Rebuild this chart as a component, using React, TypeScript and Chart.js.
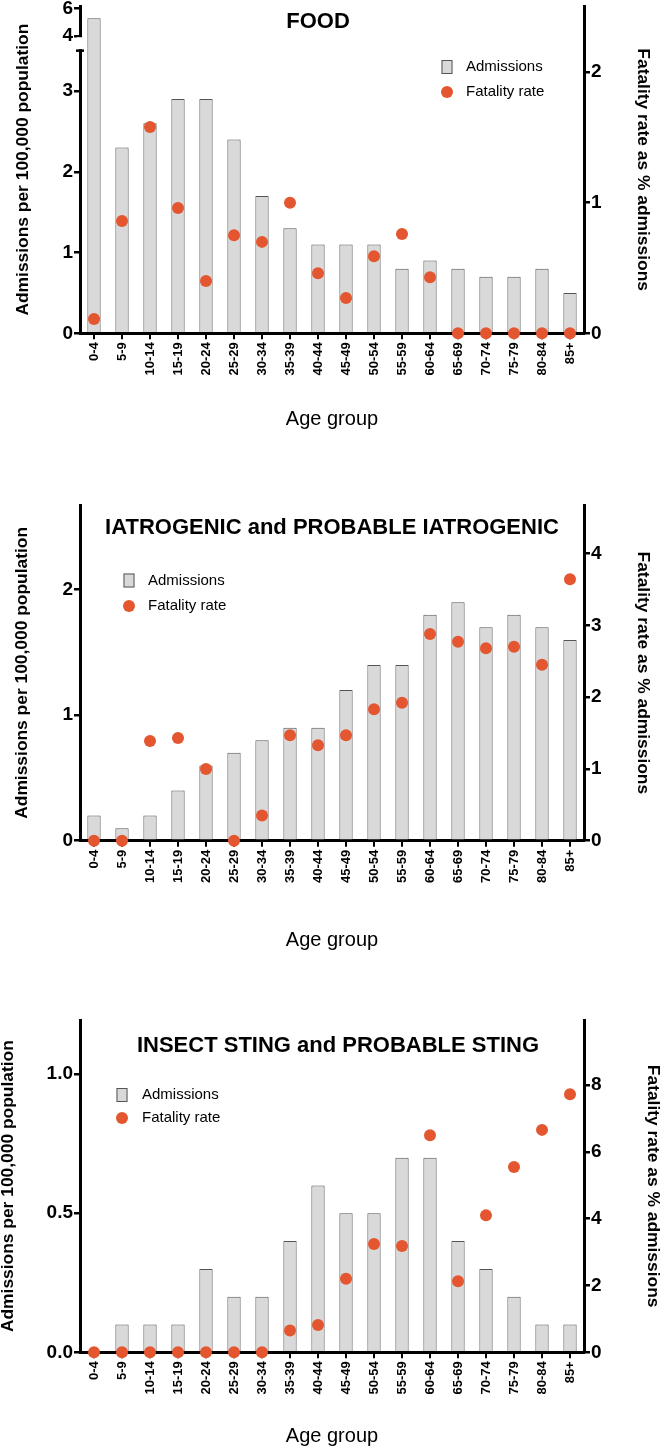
import React, { useEffect, useRef } from 'react';
import { Chart, registerables, LinearScale } from 'chart.js';

Chart.register(...registerables);

// ---------------- data ----------------
const AGE_GROUPS = ['0-4', '5-9', '10-14', '15-19', '20-24', '25-29', '30-34', '35-39', '40-44', '45-49', '50-54', '55-59', '60-64', '65-69', '70-74', '75-79', '80-84', '85+'];

const FOOD_ADMISSIONS = [5.3, 2.3, 2.6, 2.9, 2.9, 2.4, 1.7, 1.3, 1.1, 1.1, 1.1, 0.8, 0.9, 0.8, 0.7, 0.7, 0.8, 0.5];
const FOOD_FATALITY = [0.11, 0.86, 1.58, 0.96, 0.4, 0.75, 0.7, 1.0, 0.46, 0.27, 0.59, 0.76, 0.43, 0, 0, 0, 0, 0];

const IATRO_ADMISSIONS = [0.2, 0.1, 0.2, 0.4, 0.6, 0.7, 0.8, 0.9, 0.9, 1.2, 1.4, 1.4, 1.8, 1.9, 1.7, 1.8, 1.7, 1.6];
const IATRO_FATALITY = [0, 0, 1.39, 1.43, 1.0, 0, 0.35, 1.47, 1.33, 1.47, 1.83, 1.92, 2.88, 2.77, 2.68, 2.7, 2.45, 3.64];

const STING_ADMISSIONS = [0, 0.1, 0.1, 0.1, 0.3, 0.2, 0.2, 0.4, 0.6, 0.5, 0.5, 0.7, 0.7, 0.4, 0.3, 0.2, 0.1, 0.1];
const STING_FATALITY = [0, 0, 0, 0, 0, 0, 0, 0.65, 0.82, 2.2, 3.24, 3.18, 6.5, 2.13, 4.1, 5.55, 6.66, 7.73];

const FOOD_LEFT_TICKS = [0, 1, 2, 3, 4, 6];
const FOOD_RIGHT_TICKS = [0, 1, 2];
const IATRO_LEFT_TICKS = [0, 1, 2];
const IATRO_RIGHT_TICKS = [0, 1, 2, 3, 4];
const STING_LEFT_TICKS = [0, 0.5, 1.0];
const STING_RIGHT_TICKS = [0, 2, 4, 6, 8];

// broken axis (FOOD left axis): value breakpoints and their share of the axis height
const FOOD_BREAK_VALUES = [0, 3.5, 4, 6.2];
const FOOD_BREAK_FRACTIONS = [0, 0.8636, 0.9091, 1];

// ---------------- styling ----------------
const FONT = "'Liberation Sans', Arial, Helvetica, sans-serif";
const BAR_FILL = '#D9D9D9';
const BAR_EDGE = '#555555';
const DOT = '#E4562F';
const W = 662;
const PLOT_LEFT = 80;
const PLOT_RIGHT = 584;

function interp(x: number, xs: number[], ys: number[]) {
  const n = xs.length;
  let i = 1;
  while (i < n - 1 && x > xs[i]) i++;
  return ys[i - 1] + ((x - xs[i - 1]) * (ys[i] - ys[i - 1])) / (xs[i] - xs[i - 1]);
}

class BrokenLinearScale extends LinearScale {
  static id = 'brokenLinear';
  static defaults = LinearScale.defaults;
  getPixelForValue(value: any) {
    if (value === null || value === undefined || isNaN(value)) return NaN;
    return this.getPixelForDecimal(interp(+value, FOOD_BREAK_VALUES, FOOD_BREAK_FRACTIONS));
  }
  getValueForPixel(pixel: number) {
    return interp(this.getDecimalForPixel(pixel), FOOD_BREAK_FRACTIONS, FOOD_BREAK_VALUES);
  }
}
Chart.register(BrokenLinearScale as any);

const axisBreakPlugin = {
  id: 'axisBreak',
  afterDraw(chart: any) {
    const s = chart.scales.y;
    const ctx = chart.ctx;
    const x = chart.chartArea.left;
    const yLow = s.getPixelForValue(FOOD_BREAK_VALUES[1]);
    const yHigh = s.getPixelForValue(FOOD_BREAK_VALUES[2]);
    ctx.save();
    ctx.fillStyle = '#fff';
    ctx.fillRect(x - 3, yHigh + 1.5, 6, yLow - yHigh - 3);
    ctx.strokeStyle = '#000';
    ctx.lineWidth = 2.5;
    ctx.beginPath();
    ctx.moveTo(x - 4, yLow);
    ctx.lineTo(x + 4, yLow);
    ctx.stroke();
    ctx.restore();
  },
};

function decorPlugin(p: any) {
  return {
    id: 'decor',
    afterDraw(chart: any) {
      const ctx = chart.ctx;
      const dots = chart.data.datasets[0];
      const bars = chart.data.datasets[1];
      ctx.save();
      ctx.fillStyle = '#000';
      ctx.textAlign = 'center';
      ctx.textBaseline = 'middle';
      ctx.font = `bold 22px ${FONT}`;
      ctx.fillText(p.title, p.titleX, p.titleY);
      // legend: bar swatch
      ctx.fillStyle = bars.backgroundColor;
      ctx.fillRect(p.legX - 5.5, p.legY1 - 7, 11, 14);
      ctx.strokeStyle = bars.borderColor;
      ctx.lineWidth = 1;
      ctx.strokeRect(p.legX - 5, p.legY1 - 6.5, 10, 13);
      // legend: dot
      ctx.fillStyle = dots.pointBackgroundColor;
      ctx.beginPath();
      ctx.arc(p.legX, p.legY2, 6, 0, Math.PI * 2);
      ctx.fill();
      ctx.fillStyle = '#000';
      ctx.textAlign = 'left';
      ctx.font = `15px ${FONT}`;
      ctx.fillText(bars.label, p.legTextX, p.legY1);
      ctx.fillText(dots.label, p.legTextX, p.legY2);
      ctx.restore();
    },
  };
}

const tickFont = { family: FONT, size: 19, weight: 'bold' as const };
const axisTitleFont = { family: FONT, size: 17.4, weight: 'bold' as const };

function makeConfig(p: any): any {
  const xHeight = p.height - p.plotBottom;
  return {
    type: 'bar',
    data: {
      labels: AGE_GROUPS,
      datasets: [
        {
          type: 'line',
          label: 'Fatality rate',
          data: p.fatality,
          yAxisID: 'y1',
          showLine: false,
          clip: false,
          pointRadius: 6,
          pointHoverRadius: 6,
          pointBackgroundColor: DOT,
          pointBorderColor: DOT,
          pointBorderWidth: 0,
          backgroundColor: DOT,
          borderColor: DOT,
          order: 0,
        },
        {
          type: 'bar',
          label: 'Admissions',
          data: p.admissions,
          yAxisID: 'y',
          backgroundColor: BAR_FILL,
          borderColor: BAR_EDGE,
          borderWidth: 1,
          barPercentage: 0.475,
          categoryPercentage: 1,
          order: 1,
        },
      ],
    },
    options: {
      responsive: false,
      maintainAspectRatio: false,
      animation: false,
      events: [],
      layout: { padding: { top: p.plotTop, left: 0, right: 0, bottom: 0 } },
      plugins: { legend: { display: false }, tooltip: { enabled: false }, title: { display: false } },
      scales: {
        x: {
          type: 'category',
          offset: true,
          grid: { display: true, offset: false, drawOnChartArea: false, drawTicks: true, tickLength: 6, lineWidth: 2, color: '#000' },
          border: { display: true, width: 3, color: '#000' },
          ticks: { autoSkip: false, maxRotation: 90, minRotation: 90, padding: 3, color: '#000', font: { family: FONT, size: 13, weight: 'bold' } },
          title: { display: true, text: 'Age group', color: '#000', font: { family: FONT, size: 20 }, padding: { top: 0, bottom: p.xTitlePad } },
          afterFit: (s: any) => {
            s.height = xHeight;
            s.paddingLeft = 0;
            s.paddingRight = 0;
          },
        },
        y: {
          type: p.leftType,
          position: 'left',
          min: 0,
          max: p.leftMax,
          grid: { drawOnChartArea: false, drawTicks: true, tickLength: 6, lineWidth: 2.5, color: '#000' },
          border: { display: true, width: 3, color: '#000' },
          ticks: { padding: 1, color: '#000', font: tickFont, callback: p.leftFmt },
          afterBuildTicks: (s: any) => {
            s.ticks = p.leftTicks.map((v: number) => ({ value: v }));
          },
          title: { display: true, text: 'Admissions per 100,000 population', color: '#000', font: axisTitleFont, padding: { top: p.leftTitlePad, bottom: 0 } },
          afterFit: (s: any) => {
            s.width = PLOT_LEFT;
            s.paddingTop = 0;
            s.paddingBottom = 0;
          },
        },
        y1: {
          type: 'linear',
          position: 'right',
          min: 0,
          max: p.rightMax,
          grid: { drawOnChartArea: false, drawTicks: true, tickLength: 6, lineWidth: 2.5, color: '#000' },
          border: { display: true, width: 3, color: '#000' },
          ticks: { padding: 1, color: '#000', font: tickFont, callback: (v: any) => String(v) },
          afterBuildTicks: (s: any) => {
            s.ticks = p.rightTicks.map((v: number) => ({ value: v }));
          },
          title: { display: true, text: 'Fatality rate as % admissions', color: '#000', font: axisTitleFont, padding: { top: p.rightTitlePad, bottom: 0 } },
          afterFit: (s: any) => {
            s.width = W - PLOT_RIGHT;
            s.paddingTop = 0;
            s.paddingBottom = 0;
          },
        },
      },
    },
    plugins: [decorPlugin(p), ...(p.extraPlugins || [])],
  };
}

const intFmt = (v: any) => String(v);
const oneDecFmt = (v: any) => Number(v).toFixed(1);

const PANELS = [
  {
    top: 0,
    height: 460,
    plotTop: 3.3,
    plotBottom: 333.3,
    admissions: FOOD_ADMISSIONS,
    fatality: FOOD_FATALITY,
    leftType: 'brokenLinear',
    leftMax: 6.2,
    rightMax: 2.506,
    leftTicks: FOOD_LEFT_TICKS,
    rightTicks: FOOD_RIGHT_TICKS,
    leftFmt: intFmt,
    xTitlePad: 29,
    leftTitlePad: 13,
    rightTitlePad: 8.5,
    title: 'FOOD',
    titleX: 318,
    titleY: 22,
    legX: 447,
    legY1: 67,
    legY2: 92,
    legTextX: 466,
    extraPlugins: [axisBreakPlugin],
  },
  {
    top: 460,
    height: 500,
    plotTop: 45,
    plotBottom: 380.7,
    admissions: IATRO_ADMISSIONS,
    fatality: IATRO_FATALITY,
    leftType: 'linear',
    leftMax: 2.675,
    rightMax: 4.675,
    leftTicks: IATRO_LEFT_TICKS,
    rightTicks: IATRO_RIGHT_TICKS,
    leftFmt: intFmt,
    xTitlePad: 8,
    leftTitlePad: 12,
    rightTitlePad: 8.5,
    title: 'IATROGENIC and PROBABLE IATROGENIC',
    titleX: 332,
    titleY: 68,
    legX: 129,
    legY1: 120.5,
    legY2: 146,
    legTextX: 148,
  },
  {
    top: 960,
    height: 490,
    plotTop: 60,
    plotBottom: 392.3,
    admissions: STING_ADMISSIONS,
    fatality: STING_FATALITY,
    leftType: 'linear',
    leftMax: 1.195,
    rightMax: 9.95,
    leftTicks: STING_LEFT_TICKS,
    rightTicks: STING_RIGHT_TICKS,
    leftFmt: oneDecFmt,
    xTitlePad: 2,
    leftTitlePad: -2.4,
    rightTitlePad: -1.4,
    title: 'INSECT STING and PROBABLE STING',
    titleX: 338,
    titleY: 85.7,
    legX: 122,
    legY1: 135,
    legY2: 158,
    legTextX: 142,
  },
];

function Panel({ p }: { p: any }) {
  const ref = useRef<HTMLCanvasElement | null>(null);
  useEffect(() => {
    if (!ref.current) return;
    const chart = new Chart(ref.current, makeConfig(p));
    return () => chart.destroy();
  }, [p]);
  return (
    <canvas
      ref={ref}
      width={W}
      height={p.height}
      style={{ position: 'absolute', left: 0, top: p.top, width: W, height: p.height, display: 'block' }}
    />
  );
}

export default function App() {
  return (
    <div style={{ position: 'absolute', left: 0, top: 0, width: W, height: 1450, background: '#fff' }}>
      {PANELS.map((p, i) => (
        <Panel key={i} p={p} />
      ))}
    </div>
  );
}
